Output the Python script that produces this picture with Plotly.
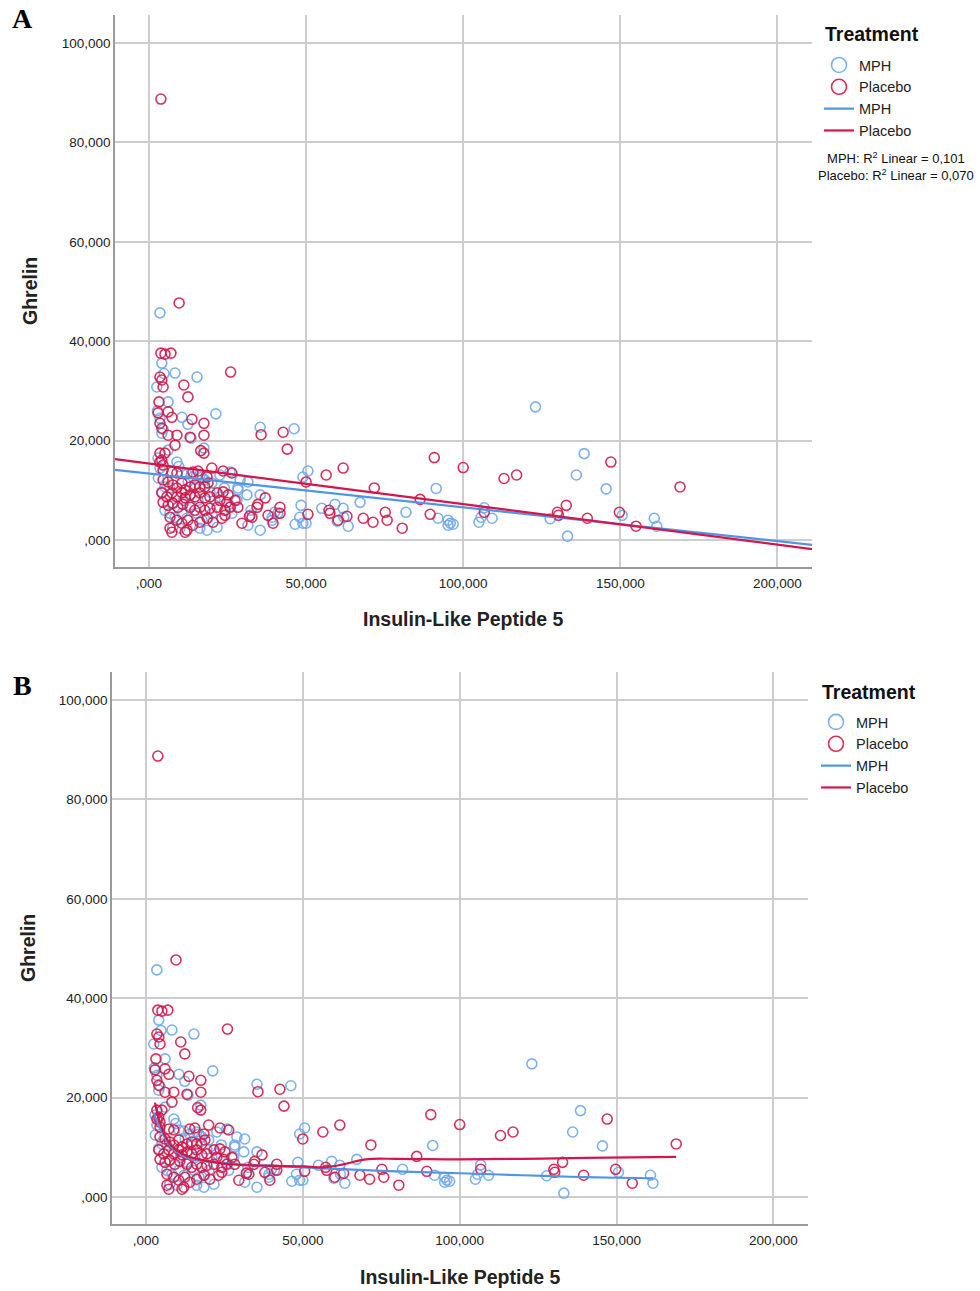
import plotly.graph_objects as go

# ---------------- data (values in thousands) ----------------
mph_x = [3.5, 123, 21.3, 138.5, 136, 145.5, 91.4, 127.7, 133.2, 150.6, 160.8, 161.6, 106.7, 105, 105.7,
         109.2, 92, 95.2, 95.9, 96.8, 95.2, 81.8, 67.2, 59.2, 61.8, 59.9, 63.4, 62, 55, 50.6, 49, 48.4,
         46.5, 49, 50, 48, 46.2, 35.4, 29, 31.5, 28.3, 35.4, 40, 28, 32.5, 39.2, 41, 35.4, 31.5, 4.1,
         8.3, 15.3, 2.5, 6.1, 10.5, 12.4, 4.1, 4.5, 13.4, 17.5, 6.1, 8.9, 3.5, 10.5, 12.1, 14, 16.2,
         22.6, 25.8, 17.8, 20, 5.1, 6.7, 4.1, 28.3, 31.2, 5.1, 6.7, 8.3, 10.5, 12.1, 15.3, 16.9, 18.8,
         20.1, 7.6, 9.9, 16.2, 18.5, 21.7, 32.2, 39.2, 26.4, 19.4, 21, 22.6, 16.9, 14.6, 15.6,
         2.9, 3.0, 7.5, 11, 13, 24, 26, 12.5, 3.5, 2.7, 4.8, 9.5]
mph_y = [45.7, 26.8, 25.4, 17.4, 13.1, 10.3, 10.4, 4.3, 0.8, 5.0, 4.4, 2.8, 6.5, 3.6, 4.6,
         4.4, 4.4, 4.0, 3.4, 3.2, 3.0, 5.6, 7.6, 7.2, 6.4, 3.8, 2.8, 4.6, 6.4, 13.9, 12.7, 7.0,
         3.2, 3.4, 3.4, 4.6, 22.4, 22.7, 12.1, 11.7, 10.5, 9.1, 5.6, 8.0, 6.0, 4.6, 5.4, 2.0, 3.0, 35.6,
         33.6, 32.8, 30.8, 27.8, 24.7, 23.3, 21.5, 22.3, 20.5, 18.5, 18.1, 15.7, 14.5, 13.5, 13.3, 12.7, 13.1,
         13.1, 13.7, 12.1, 11.5, 10.7, 10.5, 9.7, 10.1, 9.1, 6.0, 5.4, 4.6, 5.4, 4.4, 5.4, 4.0, 4.4,
         5.4, 2.6, 2.4, 2.4, 2.0, 2.6, 5.0, 4.0, 5.4, 9.7, 8.0, 8.7, 12.7, 10.5, 8.0,
         16.5, 12.5, 7.5, 8.0, 7.0, 10.5, 6.8, 11.8, 24.5, 26.0, 33.5, 14.8]

pla_x = [3.8, 9.6, 26, 147, 169, 90.8, 100, 113, 117, 132.8, 130, 130.3, 139.5, 149.7, 155, 106.7,
         42.7, 44, 50, 56.4, 61.8, 71.7, 86.3, 41.7, 41.7, 50.6, 57.3, 57.6, 60.2, 63, 68.2, 71.3,
         75.2, 75.8, 80.6, 89.5, 35.7, 37, 34.7, 28.3, 32, 37.9, 39.5, 29.6, 3.8, 5.1, 7.0, 3.5, 4.1,
         4.5, 11.1, 12.4, 3.2, 2.9, 6.1, 7.3, 13.7, 17.5, 3.5, 4.1, 6.1, 8.9, 17.5, 13.1, 8.3, 17.5,
         3.5, 5.1, 4.1, 3.5, 4.5, 4.5, 7.3, 8.9, 14, 15.6, 20, 23.6, 26.4, 18.5, 4.5, 6.1, 7.6, 8.9,
         10.5, 11.5, 13.1, 14.6, 16.2, 17.8, 18.8, 4.1, 5.7, 7.3, 8.9, 10.5, 11.5, 13.1, 14.6, 16.2,
         17.8, 19.4, 21.7, 23.6, 25.2, 27.4, 22.6, 24.8, 21.7, 24.2, 25.8, 4.5, 6.1, 7.6, 9.2, 10.8,
         13.1, 14.6, 16.2, 17.8, 19.4, 6.7, 8.9, 10.5, 12.4, 14, 16.2, 18.5, 20.4, 23.2, 24.2, 6.7,
         7.3, 11.5, 12.1, 32.8, 34.4, 16.5]
pla_y = [88.7, 47.7, 33.8, 15.7, 10.7, 16.6, 14.6, 12.4, 13.1, 7.0, 5.6, 5.0, 4.4, 5.6, 2.8, 5.6,
         21.7, 18.3, 11.7, 13.1, 14.5, 10.5, 8.2, 6.6, 5.4, 5.2, 6.0, 5.4, 4.0, 4.8, 4.4, 3.6,
         5.6, 4.0, 2.4, 5.2, 21.2, 8.5, 7.2, 6.6, 4.8, 5.0, 3.4, 3.4, 37.6, 37.4, 37.6, 32.8, 32.2,
         30.8, 31.2, 28.8, 27.8, 25.6, 25.8, 24.7, 24.3, 23.5, 23.5, 22.5, 21.1, 21.1, 21.1, 20.7, 19.1, 17.5,
         17.5, 17.5, 16.1, 15.7, 15.1, 14.1, 13.7, 13.5, 13.7, 13.9, 14.5, 13.9, 13.5, 12.7, 12.1, 11.7, 11.1, 10.5,
         11.5, 10.1, 10.7, 11.1, 10.7, 10.7, 11.5, 9.5, 8.7, 9.5, 8.7, 9.5, 8.5, 9.1, 8.7, 9.5,
         8.5, 8.7, 9.5, 9.7, 9.1, 8.0, 8.0, 7.6, 6.6, 6.0, 6.6, 7.6, 7.0, 7.4, 6.6, 7.2,
         6.6, 6.0, 6.6, 6.0, 6.4, 4.6, 4.0, 3.4, 4.0, 3.0, 3.6, 4.4, 3.6, 4.4, 5.0, 2.4,
         1.6, 1.6, 2.0, 4.6, 6.6, 18.0]

# linear fits
mph_fit = {"intercept": 13.4, "slope": -0.068}
pla_fit = {"intercept": 15.4, "slope": -0.0816}

# loess curves
mph_loess_x = [2.5, 4, 6, 8, 10, 13, 17, 22, 30, 40, 50, 60, 75, 90, 105, 120, 135, 150, 161.6]
mph_loess_y = [17, 14.5, 12, 10.2, 9.0, 8.0, 7.4, 7.0, 6.6, 6.3, 6.0, 5.7, 5.3, 5.0, 4.7, 4.4, 4.1, 3.9, 3.8]
pla_loess_x = [2.9, 4, 6, 8, 10, 13, 17, 22, 30, 40, 50, 57, 63, 70, 80, 100, 120, 140, 169]
pla_loess_y = [19, 16, 12.5, 10.5, 9.3, 8.3, 7.6, 7.0, 6.5, 6.3, 6.2, 6.0, 6.6, 7.6, 7.7, 7.6, 7.7, 7.9, 8.1]

x_ticks = [0, 50000, 100000, 150000, 200000]
x_ticktext = [",000", "50,000", "100,000", "150,000", "200,000"]
y_ticks = [0, 20000, 40000, 60000, 80000, 100000]
y_ticktext = [",000", "20,000", "40,000", "60,000", "80,000", "100,000"]
x_range = [-10800, 211000]
y_range = [-5400, 105600]

K = 1000.0
def sc(v):
    return [a * K for a in v]

# ---------------- styling ----------------
BLUE_M = "rgba(110,168,238,0.9)"
RED_M = "rgba(214,24,72,0.9)"
BLUE_L = "#4f95e6"
RED_L = "#d4174a"
FONT = "Liberation Sans, Arial, sans-serif"
W, H = 980, 1291

def px(x):
    return x / W
def py(y):
    return 1 - y / H

fig = go.Figure()

def add_points(xa, ya, leg):
    fig.add_trace(go.Scatter(x=sc(mph_x), y=sc(mph_y), mode="markers", name="MPH", showlegend=False,
                             marker=dict(symbol="circle-open", size=10, color=BLUE_M, line=dict(width=1.6)),
                             xaxis=xa, yaxis=ya))
    fig.add_trace(go.Scatter(x=sc(pla_x), y=sc(pla_y), mode="markers", name="Placebo", showlegend=False,
                             marker=dict(symbol="circle-open", size=10, color=RED_M, line=dict(width=1.6)),
                             xaxis=xa, yaxis=ya))
    # legend entries (larger symbols, as in the reference legend)
    fig.add_trace(go.Scatter(x=[None], y=[None], mode="markers", name="MPH", legend=leg,
                             marker=dict(symbol="circle-open", size=15, color=BLUE_M, line=dict(width=1.6)),
                             xaxis=xa, yaxis=ya))
    fig.add_trace(go.Scatter(x=[None], y=[None], mode="markers", name="Placebo", legend=leg,
                             marker=dict(symbol="circle-open", size=15, color=RED_M, line=dict(width=1.6)),
                             xaxis=xa, yaxis=ya))

# Panel A
add_points("x", "y", "legend")
lx = [x_range[0] / K, x_range[1] / K]
for fit, col, nm in [(mph_fit, BLUE_L, "MPH"), (pla_fit, RED_L, "Placebo")]:
    fig.add_trace(go.Scatter(x=sc(lx), y=sc([fit["intercept"] + fit["slope"] * v for v in lx]),
                             mode="lines", name=nm, line=dict(color=col, width=2.2),
                             xaxis="x", yaxis="y", legend="legend"))

# Panel B
add_points("x2", "y2", "legend2")
fig.add_trace(go.Scatter(x=sc(mph_loess_x), y=sc(mph_loess_y), mode="lines", name="MPH",
                         line=dict(color=BLUE_L, width=2.2, shape="spline"), xaxis="x2", yaxis="y2", legend="legend2"))
fig.add_trace(go.Scatter(x=sc(pla_loess_x), y=sc(pla_loess_y), mode="lines", name="Placebo",
                         line=dict(color=RED_L, width=2.2, shape="spline"), xaxis="x2", yaxis="y2", legend="legend2"))

axis_common = dict(showgrid=True, gridcolor="#cdcdcd", gridwidth=1.5, zeroline=False,
                   showline=True, linecolor="#9a9a9a", linewidth=1.5, mirror=False,
                   tickfont=dict(family=FONT, size=13.5, color="#222"), ticks="")

leg_common = dict(xanchor="left", yanchor="top", bgcolor="rgba(0,0,0,0)",
                  font=dict(family=FONT, size=14.5, color="#222"), tracegroupgap=0)

fig.update_layout(
    width=W, height=H, margin=dict(l=0, r=0, t=0, b=0),
    paper_bgcolor="white", plot_bgcolor="white", showlegend=True,
    xaxis=dict(domain=[px(115), px(812)], range=x_range, anchor="y", tickvals=x_ticks, ticktext=x_ticktext,
               ticklabelstandoff=3, **axis_common),
    yaxis=dict(domain=[py(567), py(15)], range=y_range, anchor="x", tickvals=y_ticks, ticktext=y_ticktext, **axis_common),
    xaxis2=dict(domain=[px(112), px(808)], range=x_range, anchor="y2", tickvals=x_ticks, ticktext=x_ticktext,
                ticklabelstandoff=3, **axis_common),
    yaxis2=dict(domain=[py(1224), py(672)], range=y_range, anchor="x2", tickvals=y_ticks, ticktext=y_ticktext, **axis_common),
    legend=dict(x=px(819), y=py(49), **leg_common),
    legend2=dict(x=px(816), y=py(706), **leg_common),
)

ann = []
TITLE_FONT = dict(family=FONT, size=19.5, color="#222")
# axis titles
ann.append(dict(text="<b>Insulin-Like Peptide 5</b>", x=px(463), y=py(619), xref="paper", yref="paper",
                showarrow=False, font=TITLE_FONT, xanchor="center", yanchor="middle"))
ann.append(dict(text="<b>Insulin-Like Peptide 5</b>", x=px(460), y=py(1277), xref="paper", yref="paper",
                showarrow=False, font=TITLE_FONT, xanchor="center", yanchor="middle"))
ann.append(dict(text="<b>Ghrelin</b>", x=px(30), y=py(291), xref="paper", yref="paper", textangle=-90,
                showarrow=False, font=TITLE_FONT, xanchor="center", yanchor="middle"))
ann.append(dict(text="<b>Ghrelin</b>", x=px(28), y=py(948), xref="paper", yref="paper", textangle=-90,
                showarrow=False, font=TITLE_FONT, xanchor="center", yanchor="middle"))
# legend titles
ann.append(dict(text="<b>Treatment</b>", x=px(823), y=py(34), xref="paper", yref="paper",
                showarrow=False, font=dict(family=FONT, size=19.5, color="#111"), xanchor="left", yanchor="middle"))
ann.append(dict(text="<b>Treatment</b>", x=px(820), y=py(692), xref="paper", yref="paper",
                showarrow=False, font=dict(family=FONT, size=19.5, color="#111"), xanchor="left", yanchor="middle"))
# panel letters
ann.append(dict(text="<b>A</b>", x=px(22), y=py(19), xref="paper", yref="paper", showarrow=False,
                font=dict(family="Liberation Serif, Times New Roman, serif", size=28, color="#000"),
                xanchor="center", yanchor="middle"))
ann.append(dict(text="<b>B</b>", x=px(22), y=py(685), xref="paper", yref="paper", showarrow=False,
                font=dict(family="Liberation Serif, Times New Roman, serif", size=28, color="#000"),
                xanchor="center", yanchor="middle"))
# R^2 text
ann.append(dict(text="MPH: R<sup>2</sup> Linear = 0,101<br>Placebo: R<sup>2</sup> Linear = 0,070",
                x=px(896), y=py(166), xref="paper", yref="paper", showarrow=False, align="center",
                font=dict(family=FONT, size=13, color="#111"), xanchor="center", yanchor="middle"))
fig.update_layout(annotations=ann)

fig.write_html("out.html")
